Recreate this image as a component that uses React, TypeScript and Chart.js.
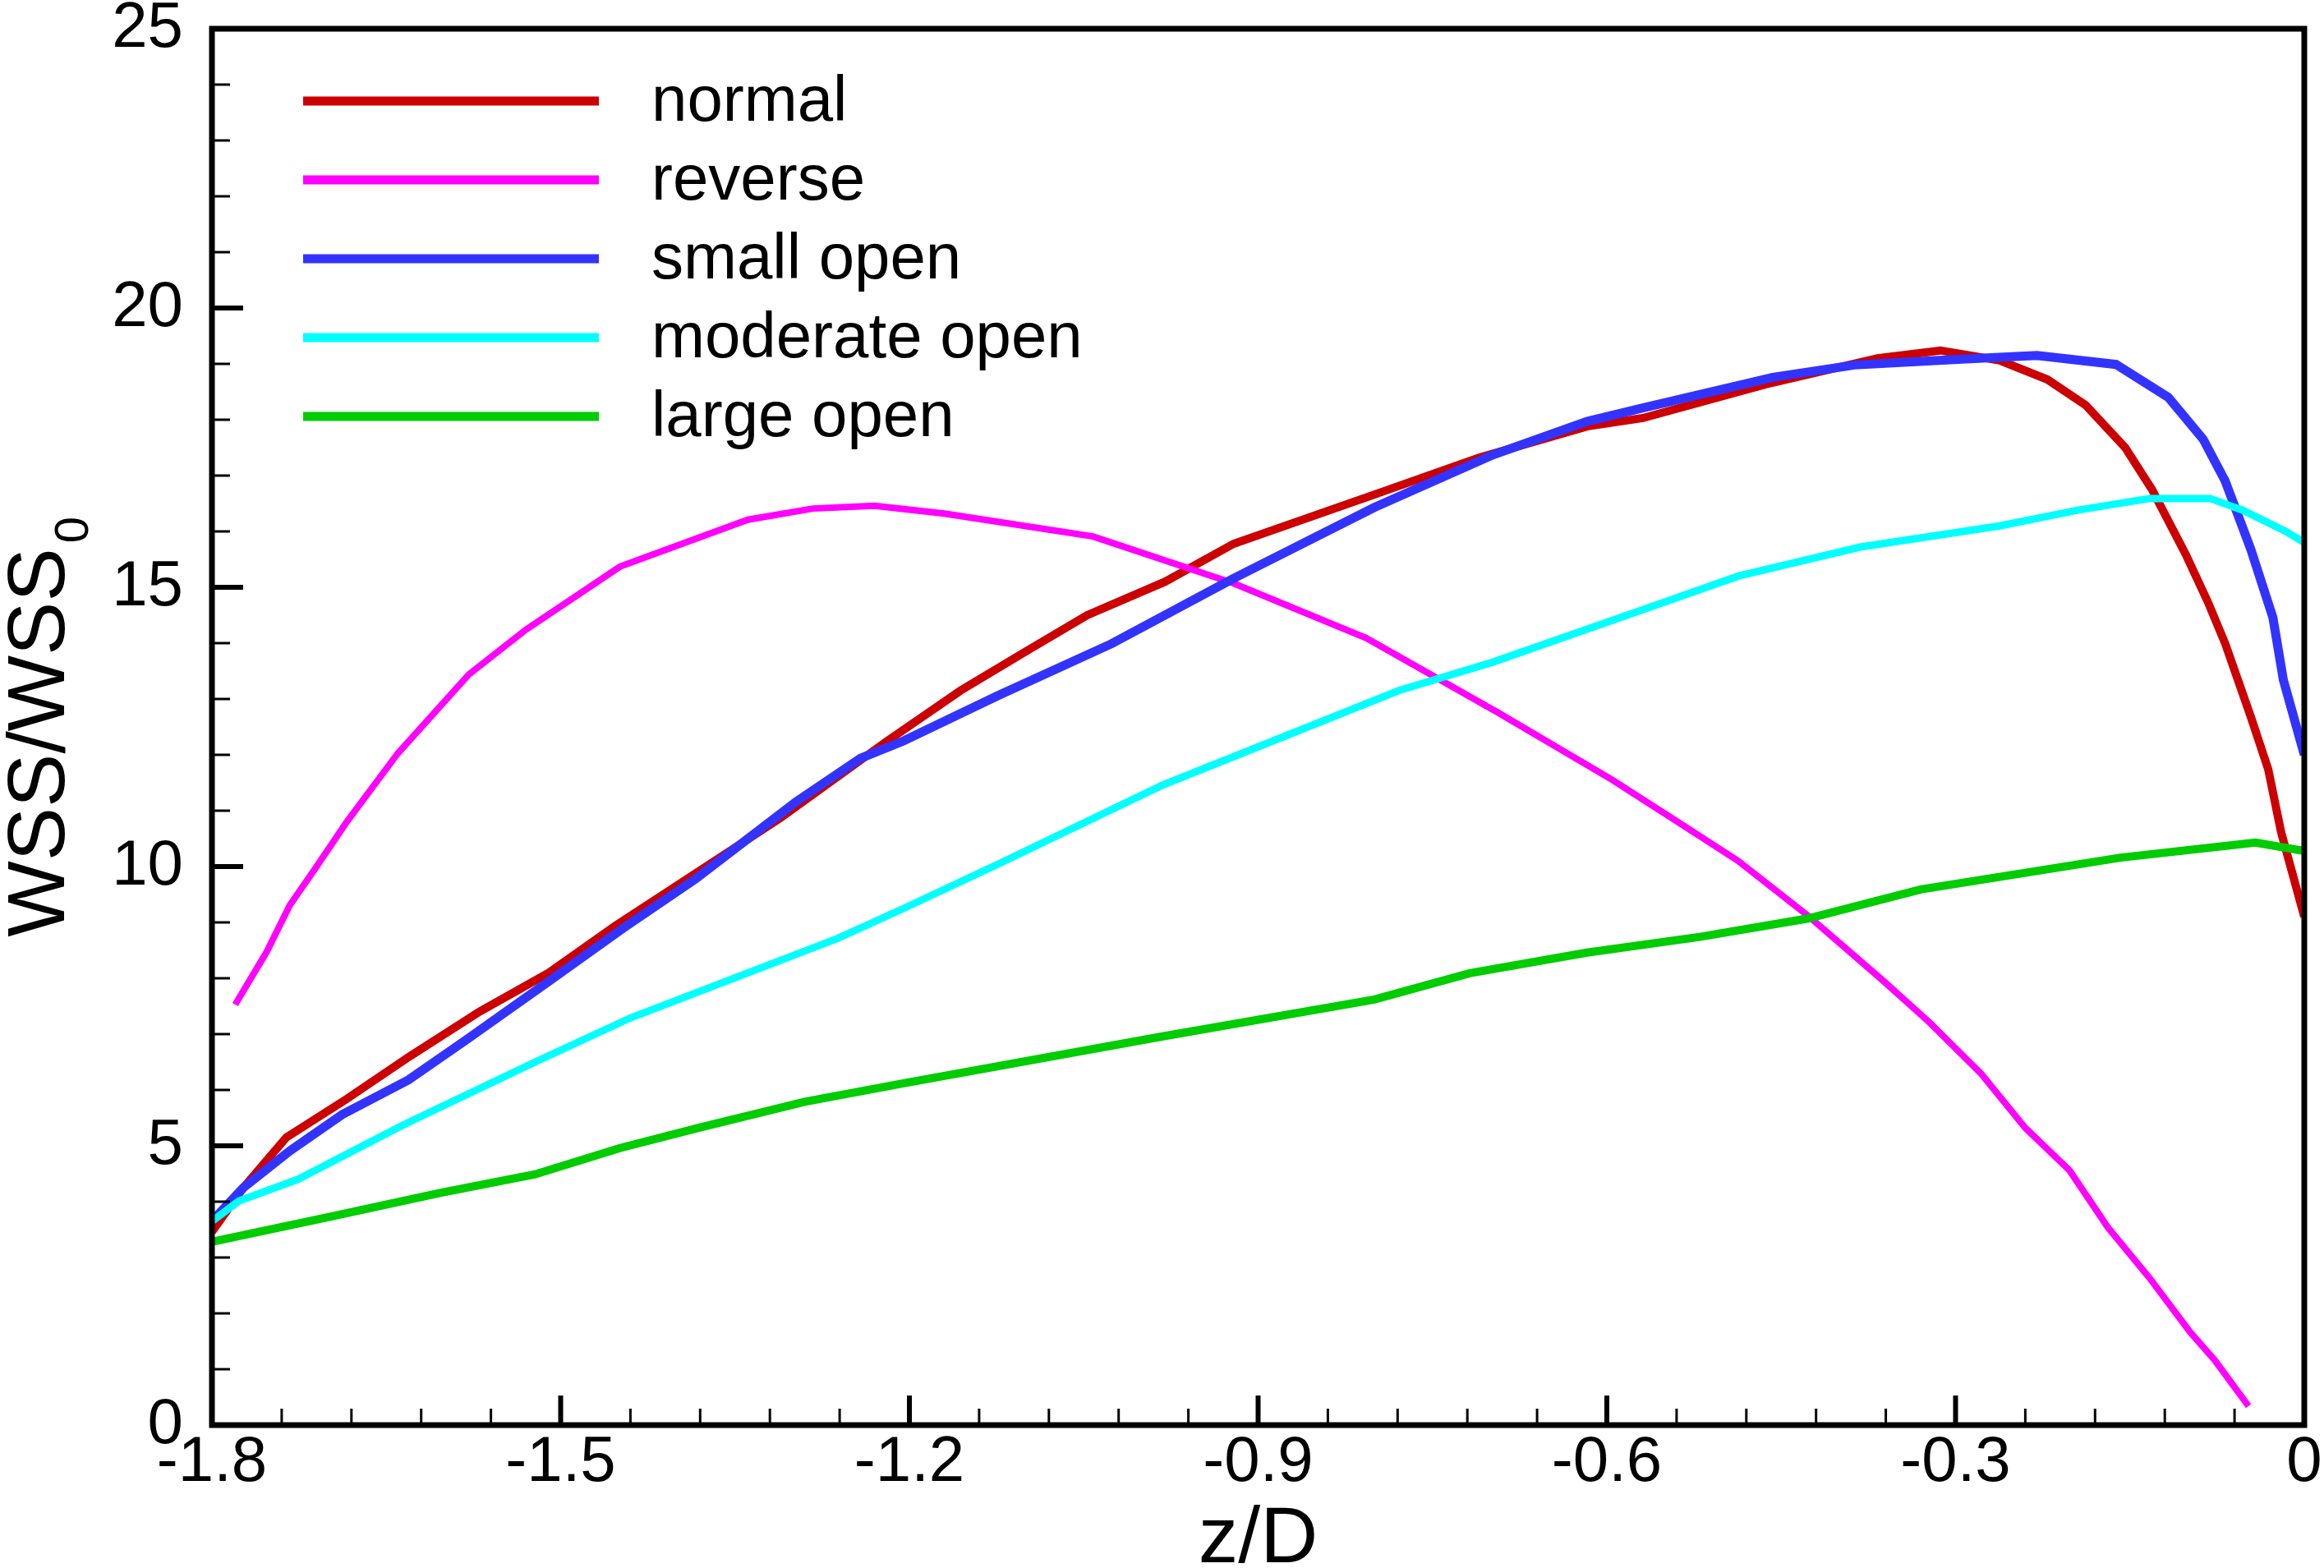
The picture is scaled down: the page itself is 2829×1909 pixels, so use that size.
import React, { useEffect, useRef } from 'react'
import { Chart, registerables } from 'chart.js'

Chart.register(...registerables)

// z/D positions and WSS/WSS0 values, one pair of arrays per case
const zNormal = [-1.8, -1.773, -1.736, -1.684, -1.63, -1.57, -1.51, -1.453, -1.38, -1.311, -1.221, -1.156, -1.1, -1.047, -0.98, -0.921, -0.8, -0.71, -0.617, -0.569, -0.464, -0.367, -0.313, -0.262, -0.221, -0.188, -0.154, -0.131, -0.102, -0.083, -0.068, -0.046, -0.031, -0.02, 0]
const wssNormal = [3.46, 4.25, 5.15, 5.84, 6.6, 7.4, 8.1, 8.94, 9.93, 10.87, 12.22, 13.15, 13.85, 14.5, 15.1, 15.78, 16.66, 17.32, 17.88, 18.03, 18.63, 19.1, 19.24, 19.06, 18.72, 18.26, 17.5, 16.75, 15.59, 14.74, 13.99, 12.68, 11.74, 10.62, 9.1]

const zReverse = [-1.78, -1.753, -1.733, -1.71, -1.684, -1.64, -1.579, -1.53, -1.449, -1.339, -1.283, -1.23, -1.17, -1.042, -0.921, -0.807, -0.694, -0.596, -0.539, -0.487, -0.427, -0.362, -0.322, -0.278, -0.24, -0.202, -0.169, -0.133, -0.098, -0.077, -0.048]
const wssReverse = [7.53, 8.47, 9.31, 10.0, 10.8, 12.03, 13.44, 14.24, 15.37, 16.21, 16.41, 16.46, 16.32, 15.91, 15.07, 14.09, 12.76, 11.56, 10.8, 10.1, 9.12, 7.95, 7.2, 6.29, 5.32, 4.56, 3.54, 2.63, 1.66, 1.16, 0.34]

const zSmall = [-1.8, -1.773, -1.733, -1.688, -1.631, -1.579, -1.51, -1.446, -1.384, -1.298, -1.242, -1.205, -1.124, -1.026, -0.921, -0.8, -0.698, -0.617, -0.569, -0.457, -0.387, -0.298, -0.23, -0.162, -0.117, -0.087, -0.068, -0.046, -0.027, -0.018, 0]
const wssSmall = [3.65, 4.25, 4.91, 5.56, 6.18, 6.93, 7.95, 8.9, 9.78, 11.15, 11.94, 12.25, 13.06, 13.99, 15.16, 16.43, 17.37, 17.97, 18.21, 18.76, 18.98, 19.08, 19.15, 18.99, 18.4, 17.65, 16.9, 15.68, 14.46, 13.34, 12.0]

const zModerate = [-1.8, -1.777, -1.726, -1.635, -1.522, -1.44, -1.262, -1.205, -1.124, -0.982, -0.779, -0.698, -0.569, -0.487, -0.382, -0.262, -0.195, -0.133, -0.081, -0.053, -0.016, 0]
const wssModerate = [3.65, 4.01, 4.4, 5.38, 6.5, 7.29, 8.71, 9.25, 10.04, 11.46, 13.15, 13.66, 14.6, 15.2, 15.72, 16.1, 16.38, 16.59, 16.59, 16.38, 16.0, 15.8]

const zLarge = [-1.8, -1.696, -1.603, -1.522, -1.449, -1.38, -1.29, -1.205, -0.982, -0.8, -0.718, -0.617, -0.52, -0.427, -0.33, -0.158, -0.042, 0]
const wssLarge = [3.28, 3.74, 4.16, 4.49, 4.96, 5.33, 5.79, 6.12, 6.96, 7.62, 8.09, 8.46, 8.74, 9.07, 9.59, 10.16, 10.43, 10.28]

const seriesNames = ['normal', 'reverse', 'small open', 'moderate open', 'large open']
const seriesColors = ['#cc0000', '#ff00ff', '#3333ff', '#00ffff', '#00cc00']
const seriesWidths = [10, 8, 11, 9, 10]

const xMin = -1.8
const xMax = 0
const xMajor = 0.3
const xMinor = 0.06
const yMin = 0
const yMax = 25
const yMajor = 5
const yMinor = 1

const FONT = '"Liberation Sans", Arial, Helvetica, sans-serif'

const toPoints = (zs: number[], vs: number[]) => zs.map((z, i) => ({ x: z, y: vs[i] }))

// box frame, inward ticks, axis titles and the in-plot legend
const framePlugin = {
  id: 'frame',
  afterDraw(chart: any) {
    const { ctx, chartArea, scales } = chart
    const { left, right, top, bottom } = chartArea
    const xs = scales.x
    const ys = scales.y
    ctx.save()
    ctx.strokeStyle = '#000'
    ctx.lineCap = 'butt'

    // minor / major ticks on the left axis
    for (let v = yMin; v <= yMax + 1e-9; v += yMinor) {
      const py = ys.getPixelForValue(v)
      const major = Math.abs(v / yMajor - Math.round(v / yMajor)) < 1e-6
      ctx.lineWidth = major ? 6 : 3
      ctx.beginPath()
      ctx.moveTo(left, py)
      ctx.lineTo(left + (major ? 38 : 22), py)
      ctx.stroke()
    }
    // minor / major ticks on the bottom axis
    const nx = Math.round((xMax - xMin) / xMinor)
    for (let i = 0; i <= nx; i++) {
      const v = xMin + i * xMinor
      const px = xs.getPixelForValue(v)
      const major = i % Math.round(xMajor / xMinor) === 0
      ctx.lineWidth = major ? 6 : 3
      ctx.beginPath()
      ctx.moveTo(px, bottom)
      ctx.lineTo(px, bottom - (major ? 36 : 20))
      ctx.stroke()
    }

    // frame
    ctx.lineWidth = 7
    ctx.strokeRect(left, top, right - left, bottom - top)

    // legend
    chart.data.datasets.forEach((ds: any, i: number) => {
      const ly = top + 88 + 96 * i
      ctx.strokeStyle = ds.borderColor
      ctx.lineWidth = 11
      ctx.beginPath()
      ctx.moveTo(left + 111, ly)
      ctx.lineTo(left + 471, ly)
      ctx.stroke()
      ctx.fillStyle = '#000'
      ctx.font = `78px ${FONT}`
      ctx.textAlign = 'left'
      ctx.textBaseline = 'alphabetic'
      ctx.fillText(ds.label, left + 535, ly + 24)
    })

    // x title
    ctx.fillStyle = '#000'
    ctx.font = `97px ${FONT}`
    ctx.textAlign = 'center'
    ctx.textBaseline = 'alphabetic'
    ctx.fillText('z/D', (left + right) / 2, 1902)

    // y title with subscript 0
    ctx.save()
    ctx.translate(78, 904)
    ctx.rotate(-Math.PI / 2)
    ctx.font = `98px ${FONT}`
    ctx.textAlign = 'left'
    const main = 'WSS/WSS'
    const w = ctx.measureText(main).width
    ctx.fillText(main, -w / 2, 0)
    ctx.font = `58px ${FONT}`
    ctx.fillText('0', w / 2 + 6, 29)
    ctx.restore()

    ctx.restore()
  },
}

const App = () => {
  const chartRef = useRef<HTMLCanvasElement>(null)

  useEffect(() => {
    if (!chartRef.current) return
    const ctx = chartRef.current.getContext('2d')
    if (!ctx) return

    const allZ = [zNormal, zReverse, zSmall, zModerate, zLarge]
    const allV = [wssNormal, wssReverse, wssSmall, wssModerate, wssLarge]

    const chart = new Chart(ctx, {
      type: 'line',
      data: {
        datasets: seriesNames.map((name, i) => ({
          label: name,
          data: toPoints(allZ[i], allV[i]),
          borderColor: seriesColors[i],
          backgroundColor: seriesColors[i],
          borderWidth: seriesWidths[i],
          pointRadius: 0,
          tension: 0,
          fill: false,
          order: seriesNames.length - i,
        })),
      },
      options: {
        responsive: false,
        devicePixelRatio: 1,
        animation: false,
        layout: { padding: { top: 35, right: 24, left: 0, bottom: 0 } },
        plugins: {
          legend: { display: false },
          tooltip: { enabled: false },
        },
        scales: {
          x: {
            type: 'linear',
            min: xMin,
            max: xMax,
            grid: { display: false, drawTicks: false },
            border: { display: false },
            afterFit: (scale: any) => {
              scale.height = 174
              scale.paddingLeft = 0
              scale.paddingRight = 0
            },
            ticks: {
              stepSize: xMajor,
              padding: 11,
              color: '#000',
              maxRotation: 0,
              font: { size: 78, family: FONT, lineHeight: 0.9 },
              callback: (v: any) => {
                const r = Math.round(Number(v) * 10) / 10
                return r === 0 ? '0' : r.toFixed(1)
              },
            },
          },
          y: {
            type: 'linear',
            min: yMin,
            max: yMax,
            grid: { display: false, drawTicks: false },
            border: { display: false },
            afterFit: (scale: any) => {
              scale.width = 258
              scale.paddingTop = 0
              scale.paddingBottom = 0
            },
            ticks: {
              stepSize: yMajor,
              padding: 35,
              color: '#000',
              font: { size: 78, family: FONT, lineHeight: 0.9 },
            },
          },
        },
      },
      plugins: [framePlugin],
    })

    return () => {
      chart.destroy()
    }
  }, [])

  return (
    <div style={{ position: 'fixed', left: 0, top: 0, width: 2829, height: 1909, background: '#fff' }}>
      <canvas ref={chartRef} width={2829} height={1909}></canvas>
    </div>
  )
}

export default App
